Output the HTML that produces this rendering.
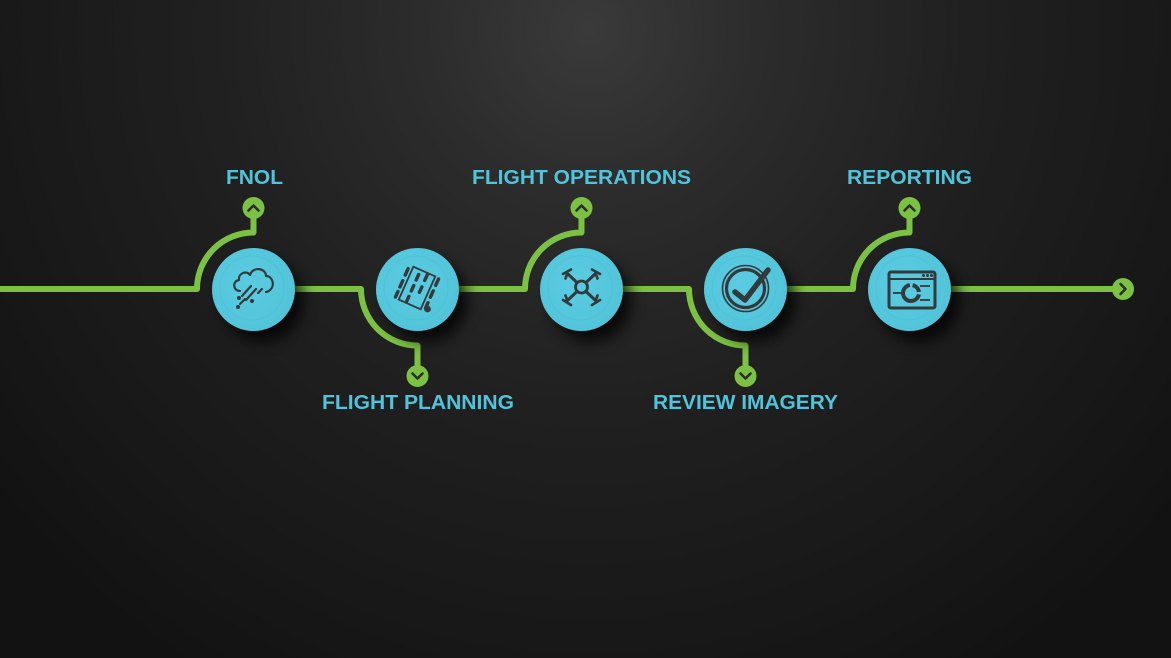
<!DOCTYPE html>
<html><head><meta charset="utf-8">
<style>
html,body{margin:0;padding:0;background:#1a1a1a;}
svg{display:block;}
text{font-family:"Liberation Sans",Arial,sans-serif;font-weight:bold;fill:#4fc4da;}
</style></head>
<body>
<svg width="1171" height="658" viewBox="0 0 1171 658" xmlns="http://www.w3.org/2000/svg">
<defs>
  <radialGradient id="bg" cx="590" cy="30" r="760" gradientUnits="userSpaceOnUse">
    <stop offset="0" stop-color="#3a3a3a"/>
    <stop offset="0.22" stop-color="#2c2c2c"/>
    <stop offset="0.5" stop-color="#202020"/>
    <stop offset="0.8" stop-color="#181818"/>
    <stop offset="1" stop-color="#121212"/>
  </radialGradient>
  <radialGradient id="cf" cx="0.42" cy="0.42" r="0.6">
    <stop offset="0" stop-color="#5acbe0"/>
    <stop offset="0.7" stop-color="#55c7dc"/>
    <stop offset="1" stop-color="#52c4d9"/>
  </radialGradient>
  <filter id="sh" x="-60%" y="-60%" width="220%" height="220%">
    <feGaussianBlur stdDeviation="7"/>
  </filter>
</defs>
<rect width="1171" height="658" fill="url(#bg)"/>

<!-- connectors -->
<g fill="none" stroke="#7cc242" stroke-width="6" stroke-linejoin="round">
  <path d="M0 289 H197 A56.5 56.5 0 0 1 253.5 232.5 V208"/>
  <path d="M253.5 289 H361 A56.5 56.5 0 0 0 417.5 345.5 V376"/>
  <path d="M417.5 289 H525 A56.5 56.5 0 0 1 581.5 232.5 V208"/>
  <path d="M581.5 289 H689 A56.5 56.5 0 0 0 745.5 345.5 V376"/>
  <path d="M745.5 289 H853 A56.5 56.5 0 0 1 909.5 232.5 V208"/>
  <path d="M909.5 289 H1123"/>
</g>

<!-- end nodes -->
<g fill="#7cc242">
  <circle cx="253.5" cy="208" r="11"/>
  <circle cx="417.5" cy="376" r="11"/>
  <circle cx="581.5" cy="208" r="11"/>
  <circle cx="745.5" cy="376" r="11"/>
  <circle cx="909.5" cy="208" r="11"/>
  <circle cx="1123" cy="289" r="11"/>
</g>
<g fill="none" stroke="#2b2d2e" stroke-width="2.6" stroke-linecap="round" stroke-linejoin="round">
  <path d="M248.5 210.5 L253.5 205.5 L258.5 210.5"/>
  <path d="M576.5 210.5 L581.5 205.5 L586.5 210.5"/>
  <path d="M904.5 210.5 L909.5 205.5 L914.5 210.5"/>
  <path d="M412.5 373.5 L417.5 378.5 L422.5 373.5"/>
  <path d="M740.5 373.5 L745.5 378.5 L750.5 373.5"/>
  <path d="M1120.5 284 L1125.5 289 L1120.5 294"/>
</g>

<!-- shadows -->
<g fill="#000" opacity="0.75" filter="url(#sh)">
  <circle cx="263" cy="301" r="41"/>
  <circle cx="427" cy="301" r="41"/>
  <circle cx="591" cy="301" r="41"/>
  <circle cx="755" cy="301" r="41"/>
  <circle cx="919" cy="301" r="41"/>
</g>

<!-- circles -->
<g fill="url(#cf)">
  <circle cx="253.5" cy="289.5" r="41.5"/>
  <circle cx="417.5" cy="289.5" r="41.5"/>
  <circle cx="581.5" cy="289.5" r="41.5"/>
  <circle cx="745.5" cy="289.5" r="41.5"/>
  <circle cx="909.5" cy="289.5" r="41.5"/>
</g>
<g fill="none" stroke="#4ebfd4" stroke-width="1.2" opacity="0.6">
  <circle cx="252" cy="288" r="32"/>
  <circle cx="416" cy="288" r="32"/>
  <circle cx="580" cy="288" r="32"/>
  <circle cx="744" cy="288" r="32"/>
  <circle cx="908" cy="288" r="32"/>
</g>

<!-- icon: cloud -->
<g fill="none" stroke="#333a3d" stroke-width="2.2" stroke-linecap="round" stroke-linejoin="round">
  <path d="M240 291 C233 291 232 281 239 280 C238 273 247 270 250 275 C253 266 266 268 266 276 C273 276 275 286 270 290 C269 291 268 292 266 292"/>
  <path d="M242 296 L251 286"/>
  <path d="M246 300 L256 289"/>
  <path d="M258 293 L262 289"/>
  <path d="M240 304 L245 299"/>
</g>
<g fill="#333a3d">
  <circle cx="239" cy="298" r="2"/>
  <circle cx="252" cy="301" r="2"/>
  <circle cx="238" cy="307" r="2"/>
</g>

<!-- icon: flight planning -->
<g transform="translate(417 288) rotate(24)" stroke="#333a3d" fill="none" stroke-linecap="round">
  <rect x="-12" y="-18" width="24" height="36" stroke-width="1.8"/>
  <g stroke-width="3.4">
    <path d="M-16 -14 V-7"/>
    <path d="M-16 -1 V6"/>
    <path d="M-16 11 V17"/>
    <path d="M16 -17 V-10"/>
    <path d="M16 -4 V3"/>
    <path d="M16 9 V15"/>
    <path d="M-4 -13 V-7"/>
    <path d="M-4 -1 V5"/>
    <path d="M-4 11 V16"/>
    <path d="M4 -16 V-10"/>
    <path d="M4 -3 V3"/>
  </g>
</g>
<circle cx="427.5" cy="309" r="3.4" fill="#333a3d"/>

<!-- icon: drone -->
<g stroke="#333a3d" fill="none" stroke-linecap="round">
  <circle cx="581.5" cy="287" r="6" stroke-width="2.8"/>
  <g stroke-width="3">
    <path d="M577 282.5 L568.5 274.5"/>
    <path d="M586 282.5 L594.5 274.5"/>
    <path d="M577 291.5 L568.5 299.5"/>
    <path d="M586 291.5 L594.5 299.5"/>
  </g>
  <g stroke-width="2.6">
    <path d="M563 274 L571 269.5"/>
    <path d="M600 274 L592 269.5"/>
    <path d="M563 300 L571 305"/>
    <path d="M600 300 L592 305"/>
    <path d="M565.5 278.5 L567.5 273"/>
    <path d="M597.5 278.5 L595.5 273"/>
    <path d="M565.5 295.5 L567.5 301"/>
    <path d="M597.5 295.5 L595.5 301"/>
  </g>
</g>

<!-- icon: check -->
<g fill="none" stroke="#333a3d" stroke-linecap="round" stroke-linejoin="round">
  <circle cx="745.5" cy="288.5" r="23" stroke-width="1.6"/>
  <circle cx="745.5" cy="288.5" r="19" stroke-width="3.2"/>
  <path d="M735 292 L745 300 L768 270" stroke-width="5.5"/>
</g>

<!-- icon: report -->
<g fill="none" stroke="#333a3d">
  <rect x="889" y="272" width="46" height="36" rx="2" stroke-width="3"/>
  <path d="M889 279 H935" stroke-width="2"/>
  <circle cx="911" cy="293" r="8" stroke-width="4" stroke-dasharray="34.9 2.8 9.8 2.8" stroke-dashoffset="-1.4"/>
  <path d="M893 293 H902" stroke-width="1.8"/>
  <path d="M920 286 H930" stroke-width="1.8"/>
  <path d="M920 300 H930" stroke-width="1.8"/>
</g>
<g fill="#333a3d">
  <circle cx="923.5" cy="275.5" r="1.5"/>
  <circle cx="927.5" cy="275.5" r="1.5"/>
  <circle cx="931.5" cy="275.5" r="1.5"/>
</g>

<!-- labels -->
<g font-size="20.5" text-anchor="middle">
  <text x="254.5" y="184" textLength="57" lengthAdjust="spacingAndGlyphs">FNOL</text>
  <text x="581.5" y="184" textLength="219" lengthAdjust="spacingAndGlyphs">FLIGHT OPERATIONS</text>
  <text x="909.5" y="184" textLength="125" lengthAdjust="spacingAndGlyphs">REPORTING</text>
  <text x="418" y="409" textLength="192" lengthAdjust="spacingAndGlyphs">FLIGHT PLANNING</text>
  <text x="745.5" y="409" textLength="185" lengthAdjust="spacingAndGlyphs">REVIEW IMAGERY</text>
</g>
</svg>
</body></html>
